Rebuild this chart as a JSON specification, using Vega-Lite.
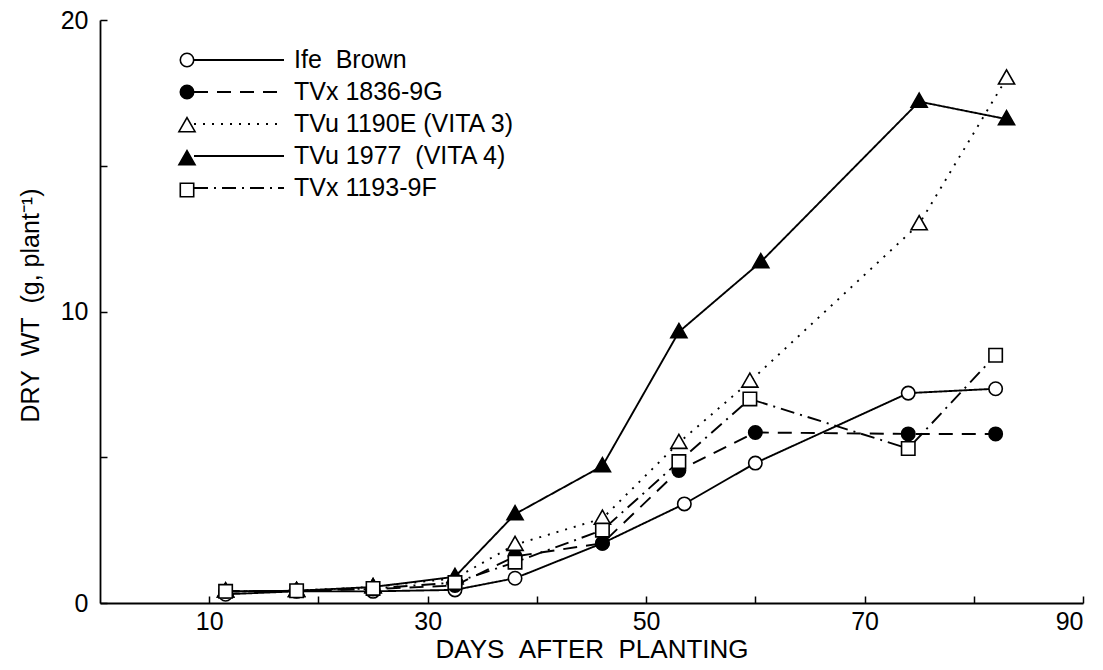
{
  "$schema": "https://vega.github.io/schema/vega-lite/v6.json",
  "width": 983,
  "height": 583,
  "autosize": {"type": "none"},
  "padding": {"left": 100, "top": 20, "right": 20, "bottom": 67},
  "background": "white",
  "config": {
    "view": {"stroke": null},
    "font": "Liberation Sans",
    "axis": {
      "domainColor": "black",
      "domainWidth": 1.8,
      "tickColor": "black",
      "tickWidth": 1.5,
      "labelColor": "black",
      "titleColor": "black",
      "labelFont": "Liberation Sans",
      "titleFont": "Liberation Sans",
      "labelFontSize": 25,
      "titleFontSize": 24,
      "titleFontWeight": "normal",
      "grid": false
    },
    "legend": {
      "labelFont": "Liberation Sans",
      "labelFontSize": 25,
      "labelColor": "black",
      "labelLimit": 400
    }
  },
  "data": {
    "values": [
      {"series": "Ife Brown", "day": 11.5, "dry_wt": 0.3},
      {"series": "Ife Brown", "day": 18, "dry_wt": 0.4},
      {"series": "Ife Brown", "day": 25, "dry_wt": 0.4},
      {"series": "Ife Brown", "day": 32.5, "dry_wt": 0.45},
      {"series": "Ife Brown", "day": 38, "dry_wt": 0.85},
      {"series": "Ife Brown", "day": 46, "dry_wt": 2.05},
      {"series": "Ife Brown", "day": 53.5, "dry_wt": 3.4},
      {"series": "Ife Brown", "day": 60, "dry_wt": 4.8},
      {"series": "Ife Brown", "day": 74, "dry_wt": 7.2},
      {"series": "Ife Brown", "day": 82, "dry_wt": 7.35},
      {"series": "TVx 1836-9G", "day": 11.5, "dry_wt": 0.4},
      {"series": "TVx 1836-9G", "day": 18, "dry_wt": 0.42},
      {"series": "TVx 1836-9G", "day": 25, "dry_wt": 0.48},
      {"series": "TVx 1836-9G", "day": 32.5, "dry_wt": 0.6},
      {"series": "TVx 1836-9G", "day": 38, "dry_wt": 1.6},
      {"series": "TVx 1836-9G", "day": 46, "dry_wt": 2.05},
      {"series": "TVx 1836-9G", "day": 53, "dry_wt": 4.55},
      {"series": "TVx 1836-9G", "day": 60, "dry_wt": 5.85},
      {"series": "TVx 1836-9G", "day": 74, "dry_wt": 5.8},
      {"series": "TVx 1836-9G", "day": 82, "dry_wt": 5.8},
      {"series": "TVu 1190E (VITA 3)", "day": 11.5, "dry_wt": 0.4},
      {"series": "TVu 1190E (VITA 3)", "day": 18, "dry_wt": 0.42},
      {"series": "TVu 1190E (VITA 3)", "day": 25, "dry_wt": 0.55},
      {"series": "TVu 1190E (VITA 3)", "day": 32.5, "dry_wt": 0.85},
      {"series": "TVu 1190E (VITA 3)", "day": 38, "dry_wt": 2.0},
      {"series": "TVu 1190E (VITA 3)", "day": 46, "dry_wt": 2.9},
      {"series": "TVu 1190E (VITA 3)", "day": 53, "dry_wt": 5.5},
      {"series": "TVu 1190E (VITA 3)", "day": 59.5, "dry_wt": 7.6},
      {"series": "TVu 1190E (VITA 3)", "day": 75, "dry_wt": 13.0},
      {"series": "TVu 1190E (VITA 3)", "day": 83, "dry_wt": 18.0},
      {"series": "TVu 1977 (VITA 4)", "day": 11.5, "dry_wt": 0.4},
      {"series": "TVu 1977 (VITA 4)", "day": 18, "dry_wt": 0.42},
      {"series": "TVu 1977 (VITA 4)", "day": 25, "dry_wt": 0.55},
      {"series": "TVu 1977 (VITA 4)", "day": 32.5, "dry_wt": 0.9},
      {"series": "TVu 1977 (VITA 4)", "day": 38, "dry_wt": 3.05},
      {"series": "TVu 1977 (VITA 4)", "day": 46, "dry_wt": 4.7},
      {"series": "TVu 1977 (VITA 4)", "day": 53, "dry_wt": 9.3},
      {"series": "TVu 1977 (VITA 4)", "day": 60.5, "dry_wt": 11.7},
      {"series": "TVu 1977 (VITA 4)", "day": 75, "dry_wt": 17.2},
      {"series": "TVu 1977 (VITA 4)", "day": 83, "dry_wt": 16.6},
      {"series": "TVx 1193-9F", "day": 11.5, "dry_wt": 0.4},
      {"series": "TVx 1193-9F", "day": 18, "dry_wt": 0.42},
      {"series": "TVx 1193-9F", "day": 25, "dry_wt": 0.5},
      {"series": "TVx 1193-9F", "day": 32.5, "dry_wt": 0.7},
      {"series": "TVx 1193-9F", "day": 38, "dry_wt": 1.4},
      {"series": "TVx 1193-9F", "day": 46, "dry_wt": 2.5},
      {"series": "TVx 1193-9F", "day": 53, "dry_wt": 4.85},
      {"series": "TVx 1193-9F", "day": 59.5, "dry_wt": 7.0},
      {"series": "TVx 1193-9F", "day": 74, "dry_wt": 5.3},
      {"series": "TVx 1193-9F", "day": 82, "dry_wt": 8.5}
    ]
  },
  "encoding": {
    "x": {
      "field": "day",
      "type": "quantitative",
      "scale": {"domain": [0, 90], "nice": false, "zero": false},
      "axis": {
        "title": "DAYS\u00a0\u00a0AFTER\u00a0\u00a0PLANTING",
        "values": [10, 20, 30, 40, 50, 60, 70, 80, 90],
        "labelExpr": "datum.value % 20 == 10 ? datum.label : ''",
        "tickSize": -7,
        "labelPadding": 13,
        "titlePadding": 2,
        "titleFontSize": 26
      }
    },
    "y": {
      "field": "dry_wt",
      "type": "quantitative",
      "scale": {"domain": [0, 20], "nice": false},
      "axis": {
        "title": "DRY\u00a0\u00a0WT\u00a0\u00a0(g,\u00a0plant⁻¹)",
        "values": [0, 5, 10, 15, 20],
        "labelExpr": "datum.value % 10 == 0 ? datum.label : ''",
        "tickSize": -7,
        "labelPadding": 19,
        "titlePadding": 17,
        "titleFontSize": 25,
        "titleY": 285
      }
    }
  },
  "layer": [
    {
      "mark": {"type": "line", "color": "black", "strokeWidth": 1.9},
      "encoding": {
        "strokeDash": {
          "field": "series",
          "type": "nominal",
          "scale": {
            "domain": ["Ife Brown", "TVx 1836-9G", "TVu 1190E (VITA 3)", "TVu 1977 (VITA 4)", "TVx 1193-9F"],
            "range": [[1, 0], [14, 9], [2, 7], [1, 0], [14, 6, 2, 6]]
          },
          "legend": {
            "title": null,
            "orient": "top-left",
            "offset": 24,
            "padding": 0,
            "symbolType": "stroke",
            "symbolSize": 8100,
            "symbolStrokeColor": "black",
            "symbolStrokeWidth": 1.9,
            "symbolOffset": 69,
            "labelOffset": 9,
            "clipHeight": 32,
            "rowPadding": 0,
            "labelExpr": "datum.label == 'Ife Brown' ? 'Ife\u00a0\u00a0Brown' : datum.label == 'TVu 1977 (VITA 4)' ? 'TVu 1977\u00a0\u00a0(VITA 4)' : datum.label"
          }
        }
      }
    },
    {
      "mark": {"type": "point", "filled": false, "color": "black", "size": 180, "strokeWidth": 1.6, "opacity": 1},
      "encoding": {
        "shape": {
          "field": "series",
          "type": "nominal",
          "scale": {
            "domain": ["Ife Brown", "TVx 1836-9G", "TVu 1190E (VITA 3)", "TVu 1977 (VITA 4)", "TVx 1193-9F"],
            "range": ["circle", "circle", "M0,-1.25L1.2,0.85L-1.2,0.85Z", "M0,-1.25L1.2,0.85L-1.2,0.85Z", "square"]
          },
          "legend": {
            "title": null,
            "orient": "none",
            "legendX": 79,
            "legendY": 32,
            "padding": 0,
            "labelExpr": "''",
            "labelFontSize": 8,
            "symbolSize": 180,
            "symbolStrokeWidth": 1.6,
            "rowPadding": 12,
            "encode": {
              "symbols": {
                "update": {
                  "fill": {"signal": "indexof(['TVx 1836-9G', 'TVu 1977 (VITA 4)'], datum.value) >= 0 ? 'black' : 'white'"},
                  "stroke": {"value": "black"},
                  "strokeWidth": {"value": 1.6},
                  "opacity": {"value": 1}
                }
              }
            }
          }
        },
        "fill": {
          "field": "series",
          "type": "nominal",
          "scale": {
            "domain": ["Ife Brown", "TVx 1836-9G", "TVu 1190E (VITA 3)", "TVu 1977 (VITA 4)", "TVx 1193-9F"],
            "range": ["white", "black", "white", "black", "white"]
          },
          "legend": null
        }
      }
    }
  ]
}
